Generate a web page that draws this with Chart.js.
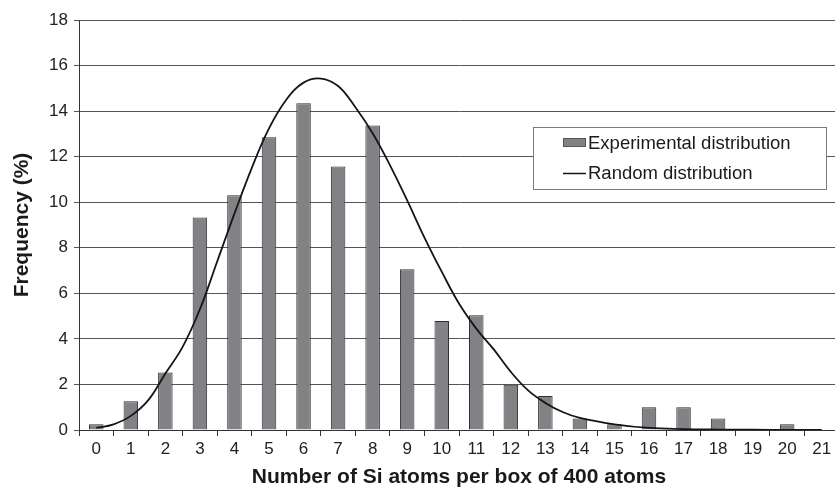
<!DOCTYPE html>
<html>
<head>
<meta charset="utf-8">
<script src="https://cdn.jsdelivr.net/npm/chart.js@4/dist/chart.umd.min.js"></script>
<style>
html,body{margin:0;padding:0;overflow:hidden;background:#fff;}
#wrap{width:839px;height:487px;}
</style>
</head>
<body>
<div id="wrap"><canvas id="c" width="839" height="487"></canvas></div>
<script>
// ---- data ----
const categories = ['0','1','2','3','4','5','6','7','8','9','10','11','12','13','14','15','16','17','18','19','20','21'];
const experimental = [0.25,1.26,2.52,9.33,10.31,12.85,14.35,11.57,13.37,7.06,4.78,5.04,1.99,1.49,0.5,0.25,1.0,1.0,0.5,0,0.25,0];
const randomX = [0,0.5,1,1.5,2,2.5,3,3.5,4,4.5,5,5.5,6,6.5,7,7.5,8,8.5,9,9.5,10,10.5,11,11.5,12,12.5,13,13.5,14,15,16,17,18,19,20,21];
const randomY = [0.09,0.25,0.62,1.3,2.48,3.65,5.3,7.4,9.5,11.5,13.24,14.5,15.25,15.43,15.1,14.17,13.03,11.63,10.08,8.45,6.95,5.55,4.45,3.55,2.55,1.74,1.19,0.79,0.53,0.25,0.09,0.04,0.02,0.01,0,0];
const yTicks = [0,2,4,6,8,10,12,14,16,18];
const seriesLabels = ['Experimental distribution','Random distribution'];
const xTitle = 'Number of Si atoms per box of 400 atoms';
const yTitle = 'Frequency (%)';

const FONT = '"Liberation Sans", Arial, Helvetica, sans-serif';
const BAR_FILL = '#828286';
const BAR_EDGE = '#2e2e2e';
const LINE_COL = '#151515';

const legendBox = {
  id: 'legendBox',
  afterDraw(chart) {
    const ctx = chart.ctx;
    const ds = chart.data.datasets;
    ctx.save();
    const bx = 533.5, by = 127.5, bw = 293, bh = 62;
    ctx.fillStyle = '#ffffff';
    ctx.fillRect(bx, by, bw, bh);
    ctx.strokeStyle = '#7a7a7a';
    ctx.lineWidth = 1;
    ctx.strokeRect(bx, by, bw, bh);
    ctx.fillStyle = ds[0].backgroundColor;
    ctx.fillRect(563.5, 138.5, 22, 8);
    ctx.strokeStyle = '#555';
    ctx.strokeRect(563.5, 138.5, 22, 8);
    ctx.strokeStyle = ds[1].borderColor;
    ctx.lineWidth = 1.5;
    ctx.beginPath();
    ctx.moveTo(563, 173.5);
    ctx.lineTo(586, 173.5);
    ctx.stroke();
    ctx.fillStyle = '#1a1a1a';
    ctx.font = '18.5px ' + FONT;
    ctx.textBaseline = 'middle';
    ctx.textAlign = 'left';
    ctx.fillText(ds[0].label, 588, 144);
    ctx.fillText(ds[1].label, 588, 174);
    ctx.restore();
  }
};

new Chart(document.getElementById('c'), {
  data: {
    labels: categories,
    datasets: [
      {
        type: 'bar',
        label: seriesLabels[0],
        data: experimental,
        backgroundColor: BAR_FILL,
        borderColor: BAR_EDGE,
        borderWidth: 1,
        grouped: false,
        barPercentage: 0.42,
        categoryPercentage: 1.0,
        xAxisID: 'x',
        order: 1
      },
      {
        type: 'line',
        label: seriesLabels[1],
        data: randomX.map((x, i) => ({x: x, y: randomY[i]})),
        borderColor: LINE_COL,
        borderWidth: 1.8,
        pointRadius: 0,
        fill: false,
        tension: 0.4,
        xAxisID: 'xl',
        order: 0
      }
    ]
  },
  options: {
    responsive: false,
    animation: false,
    devicePixelRatio: 1,
    layout: {padding: {top: 20, right: 0, left: 0, bottom: 0}},
    plugins: {legend: {display: false}, tooltip: {enabled: false}, title: {display: false}},
    scales: {
      x: {
        type: 'category',
        offset: true,
        grid: {offset: true, drawOnChartArea: false, drawTicks: true, tickLength: 6, color: '#333'},
        border: {display: true, color: '#333', width: 1},
        ticks: {color: '#222', font: {family: FONT, size: 17}, padding: 3, maxRotation: 0, autoSkip: false},
        title: {display: true, text: xTitle, color: '#1a1a1a', font: {family: FONT, size: 21, weight: 'bold'}, padding: {top: 0, bottom: -3}},
        afterFit: (s) => { s.height = 57; }
      },
      xl: {
        type: 'linear',
        display: false,
        offset: false,
        min: -0.5,
        max: 21.5
      },
      y: {
        type: 'linear',
        min: 0,
        max: 18,
        afterBuildTicks: (s) => { s.ticks = yTicks.map(v => ({value: v})); },
        grid: {color: '#555', tickLength: 5, drawTicks: true},
        border: {display: true, color: '#333', width: 1},
        ticks: {color: '#222', font: {family: FONT, size: 17}, padding: 6},
        title: {display: true, text: yTitle, color: '#1a1a1a', font: {family: FONT, size: 21, weight: 'bold'}, padding: {top: 10, bottom: 0}},
        afterFit: (s) => { s.width = 79; }
      }
    }
  },
  plugins: [legendBox]
});
</script>
</body>
</html>
